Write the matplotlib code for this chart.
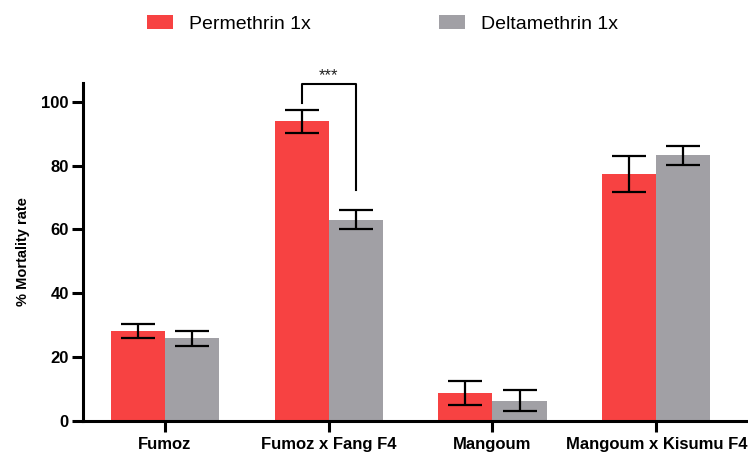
import numpy as np
import matplotlib.pyplot as plt
from matplotlib.patches import Patch

plt.rcParams['font.family'] = ['Liberation Sans', 'DejaVu Sans']

# Mortality (%) by strain, mean and error
strains = ['Fumoz', 'Fumoz x Fang F4', 'Mangoum', 'Mangoum x Kisumu F4']
perm_mean = [28.0, 93.9, 8.6, 77.3]
perm_err = [2.2, 3.7, 3.8, 5.7]
delta_mean = [25.8, 63.1, 6.3, 83.2]
delta_err = [2.3, 3.1, 3.4, 3.0]
series_names = ['Permethrin 1x', 'Deltamethrin 1x']

red = '#F74242'
grey = '#A1A0A5'
w = 0.33

fig = plt.figure(figsize=(7.48, 4.55), dpi=100)
ax = fig.add_axes([0.1106, 0.0754, 0.889, 0.742])

x = np.arange(len(strains))
ax.bar(x - w / 2, perm_mean, w, color=red, edgecolor='none')
ax.bar(x + w / 2, delta_mean, w, color=grey, edgecolor='none')
ax.errorbar(x - w / 2, perm_mean, yerr=perm_err, fmt='none', ecolor='black',
            elinewidth=1.6, capsize=12, capthick=1.6)
ax.errorbar(x + w / 2, delta_mean, yerr=delta_err, fmt='none', ecolor='black',
            elinewidth=1.6, capsize=12, capthick=1.6)

# significance bracket between the two Fumoz x Fang F4 bars
x1, x2 = 1 - w / 2, 1 + w / 2
ax.plot([x1, x1, x2, x2], [99.5, 105.5, 105.5, 72.3], color='black', lw=1.5,
        clip_on=False)
ax.text(1, 108.3, '***', ha='center', va='center', fontsize=12,
        color='#222222', clip_on=False)

ax.set_xlim(-0.5, 3.557)
ax.set_ylim(0, 105.9)
ax.set_yticks([0, 20, 40, 60, 80, 100])
ax.set_xticks(x)
ax.set_xticklabels(strains)
for lab in ax.get_xticklabels() + ax.get_yticklabels():
    lab.set_fontweight('bold')
    lab.set_fontsize(12)

ax.spines['top'].set_visible(False)
ax.spines['right'].set_visible(False)
for s in ['left', 'bottom']:
    ax.spines[s].set_linewidth(2.2)
ax.tick_params(axis='both', width=2.2, length=8, colors='black')
ax.tick_params(axis='x', pad=4)
ax.tick_params(axis='y', pad=2)

ax.set_ylabel('% Mortality rate', fontsize=10.5, fontweight='bold', labelpad=8)

handles = [Patch(facecolor=red), Patch(facecolor=grey)]
fig.legend(handles, series_names, loc='center', bbox_to_anchor=(0.511, 0.947),
           ncol=2, frameon=False, fontsize=14, handlelength=1.34,
           handleheight=0.67, handletextpad=0.82, columnspacing=6.6)

fig.savefig('out.png', dpi=100)
